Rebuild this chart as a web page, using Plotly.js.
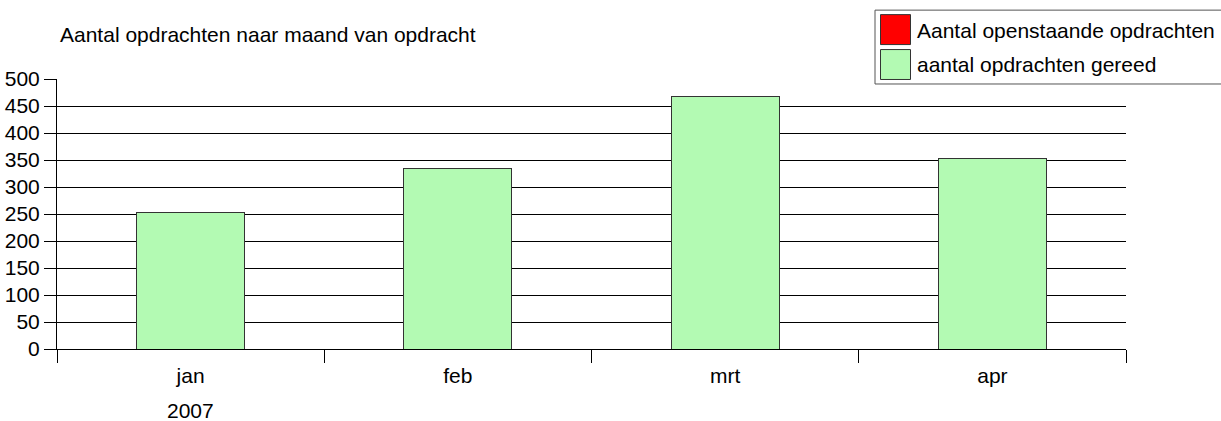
<!DOCTYPE html>
<html>
<head>
<meta charset="utf-8">
<script src="https://cdn.plot.ly/plotly-3.0.1.min.js"></script>
<style>html,body{margin:0;padding:0;background:#fff;}#chart{width:1221px;height:421px;}</style>
</head>
<body>
<div id="chart"></div>
<script>
// ---- data ----
const months = ["jan", "feb", "mrt", "apr"];
const yearLabel = "2007";
const openstaande = [0, 0, 0, 0];
const gereed = [253, 335, 467, 353];
const seriesNames = ["Aantal openstaande opdrachten", "aantal opdrachten gereed"];
const chartTitle = "Aantal opdrachten naar maand van opdracht";

// ---- layout helpers (pixel -> paper) ----
const W = 1221, H = 421;
const M = {l: 57, r: 95, t: 79, b: 71.5};
const PW = W - M.l - M.r, PH = H - M.t - M.b;
const px = x => (x - M.l) / PW;
const py = y => (H - M.b - y) / PH;

const FONT = '"Liberation Sans", Arial, sans-serif';
const FS = 21;

const traces = [
  {type: 'bar', name: seriesNames[1], x: months, y: gereed, width: 0.405,
   marker: {color: '#b3fab3', line: {color: '#333333', width: 1}}, showlegend: false, hoverinfo: 'skip'},
  {type: 'bar', name: seriesNames[0], x: months, y: openstaande, width: 0.405,
   marker: {color: '#ff0000', line: {color: '#333333', width: 0}}, showlegend: false, hoverinfo: 'skip'}
];

const layout = {
  width: W, height: H,
  margin: M,
  paper_bgcolor: '#fff', plot_bgcolor: '#fff',
  barmode: 'stack',
  showlegend: false,
  font: {family: FONT, size: FS, color: '#000'},
  xaxis: {
    type: 'category', range: [-0.5, 3.5],
    tickson: 'boundaries', ticks: 'outside', ticklen: 13, tickcolor: '#000', tickwidth: 1,
    ticklabelstandoff: 8,
    showline: true, linecolor: '#000', linewidth: 1,
    showgrid: false, zeroline: false,
    tickfont: {family: FONT, size: FS, color: '#000'}
  },
  yaxis: {
    range: [0, 500], dtick: 50, tick0: 0,
    ticks: 'outside', ticklen: 12, tickcolor: '#000', tickwidth: 1,
    showline: true, linecolor: '#000', linewidth: 1,
    showgrid: true, gridcolor: '#000', gridwidth: 1,
    zeroline: true, zerolinecolor: '#000', zerolinewidth: 1,
    tickfont: {family: FONT, size: FS, color: '#000'}
  },
  shapes: [
    {type: 'rect', xref: 'paper', yref: 'paper', layer: 'above',
     x0: px(875), x1: px(1226), y0: py(84), y1: py(10),
     fillcolor: '#fff', line: {color: '#555', width: 1}},
    {type: 'rect', xref: 'paper', yref: 'paper', layer: 'above',
     x0: px(880.5), x1: px(910.5), y0: py(44.5), y1: py(14.5),
     fillcolor: '#ff0000', line: {color: '#333', width: 1}},
    {type: 'rect', xref: 'paper', yref: 'paper', layer: 'above',
     x0: px(880.5), x1: px(910.5), y0: py(79.5), y1: py(49.5),
     fillcolor: '#b3fab3', line: {color: '#333', width: 1}}
  ],
  annotations: [
    {text: chartTitle, xref: 'paper', yref: 'paper', x: px(58), y: py(34),
     xanchor: 'left', yanchor: 'middle', showarrow: false,
     font: {family: FONT, size: FS, color: '#000'}},
    {text: seriesNames[0], xref: 'paper', yref: 'paper', x: px(915), y: py(30),
     xanchor: 'left', yanchor: 'middle', showarrow: false,
     font: {family: FONT, size: FS, color: '#000'}},
    {text: seriesNames[1], xref: 'paper', yref: 'paper', x: px(915), y: py(64),
     xanchor: 'left', yanchor: 'middle', showarrow: false,
     font: {family: FONT, size: FS, color: '#000'}},
    {text: yearLabel, xref: 'x', yref: 'paper', x: months[0], y: py(411),
     xanchor: 'center', yanchor: 'middle', showarrow: false,
     font: {family: FONT, size: FS, color: '#000'}}
  ]
};

Plotly.newPlot('chart', traces, layout, {staticPlot: true, displayModeBar: false});
</script>
</body>
</html>
